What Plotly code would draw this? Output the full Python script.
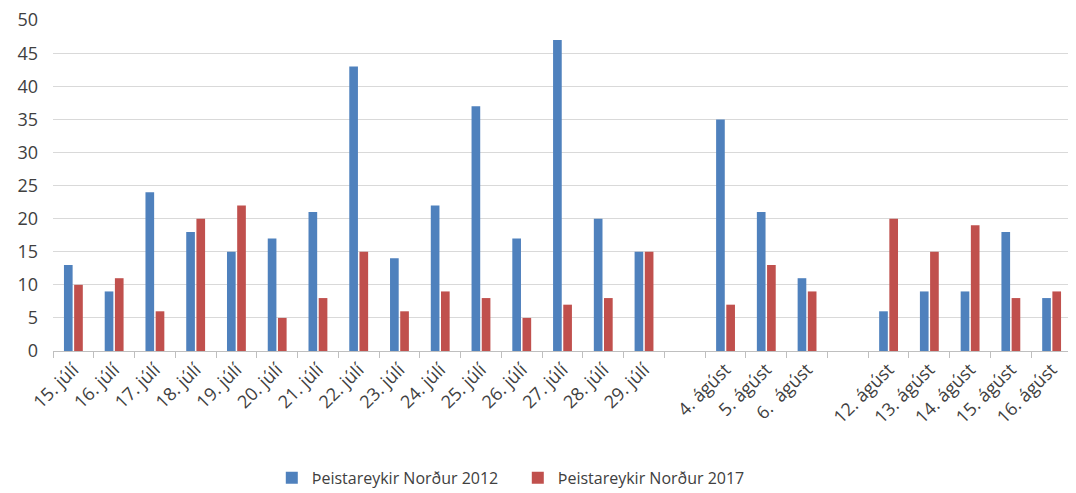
import plotly.graph_objects as go

categories = ["15. júlí", "16. júlí", "17. júlí", "18. júlí", "19. júlí", "20. júlí",
              "21. júlí", "22. júlí", "23. júlí", "24. júlí", "25. júlí", "26. júlí",
              "27. júlí", "28. júlí", "29. júlí", " ", "4. ágúst", "5. ágúst", "6.  ágúst",
              "  ", "12. ágúst", "13. ágúst", "14. ágúst", "15. ágúst", "16. ágúst"]
values_2012 = [13, 9, 24, 18, 15, 17, 21, 43, 14, 22, 37, 17, 47, 20, 15, None,
               35, 21, 11, None, 6, 9, 9, 18, 8]
values_2017 = [10, 11, 6, 20, 22, 5, 8, 15, 6, 9, 8, 5, 7, 8, 15, None,
               7, 13, 9, None, 20, 15, 19, 8, 9]
series_names = ["Þeistareykir Norður 2012", "Þeistareykir Norður 2017"]
y_ticks = [0, 5, 10, 15, 20, 25, 30, 35, 40, 45, 50]

font = "Open Sans"
fig = go.Figure()
fig.add_trace(go.Bar(x=categories, y=values_2012, name=series_names[0],
                     marker=dict(color="#4F81BD", line=dict(width=0))))
fig.add_trace(go.Bar(x=categories, y=values_2017, name=series_names[1],
                     marker=dict(color="#C0504D", line=dict(width=0))))

# the page body has an 8px default margin, so the figure is sized to fit
fig.update_layout(
    width=1068, height=487,
    margin=dict(l=45, r=4, t=12, b=144),
    paper_bgcolor="white", plot_bgcolor="white",
    barmode="group", bargap=0.5, bargroupgap=0.15,
    font=dict(family=font, color="#404040", size=16),
    legend=dict(orientation="h", x=0.247, xanchor="left", xref="container",
                y=0.035, yanchor="middle", yref="container", entrywidth=201,
                entrywidthmode="pixels",
                font=dict(size=16, color="#404040"), itemwidth=30, traceorder="normal"),
    xaxis=dict(type="category", tickangle=-45, ticks="outside", tickson="boundaries",
               ticklen=6, tickcolor="#BFBFBF", showline=True, linecolor="#BFBFBF",
               linewidth=1, tickfont=dict(size=18, color="#404040"), showgrid=False,
               automargin=False),
    yaxis=dict(range=[0, 50.02], tickvals=y_ticks, showgrid=True, gridcolor="#D9D9D9",
               gridwidth=1, zeroline=False, showline=False, automargin=False,
               ticklabelstandoff=14, ticklabeloverflow="allow",
               tickfont=dict(size=18, color="#404040"), ticks=""),
)
fig.write_html("out.html")
